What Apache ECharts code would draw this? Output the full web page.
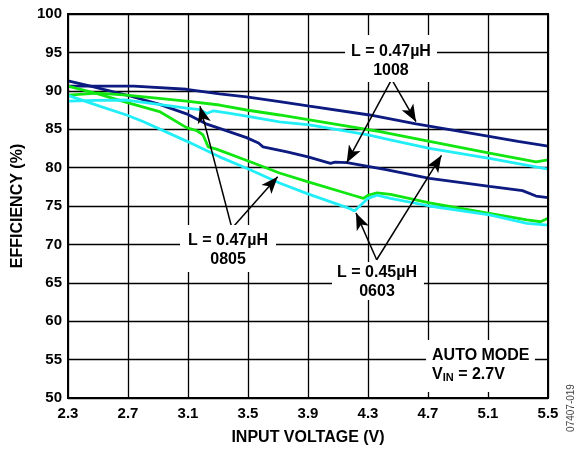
<!DOCTYPE html>
<html><head><meta charset="utf-8">
<script src="https://cdn.jsdelivr.net/npm/echarts@6/dist/echarts.min.js"></script>
<style>html,body{margin:0;padding:0;background:#fff}#c{width:578px;height:451px}</style>
</head><body><div id="c"></div>
<script>
var X0 = 2.3;
var xTicks = ['2.3','2.7','3.1','3.5','3.9','4.3','4.7','5.1','5.5'];
var yTicks = [50,55,60,65,70,75,80,85,90,95,100];

// 1008 (navy)
var navyUpper = [[2.3,90.6],[2.5,90.6],[2.74,90.6],[3.09,90.2],[3.31,89.6],[3.49,89.2],[3.71,88.6],[3.91,88.0],[4.31,86.85],[4.62,85.7],[5.05,84.25],[5.3,83.4],[5.5,82.8]];
var navyLower = [[2.3,91.3],[2.45,90.6],[2.69,89.45],[2.9,88.3],[3.09,87.0],[3.22,85.7],[3.31,85.1],[3.49,83.9],[3.57,83.2],[3.6,82.7],[3.76,82.05],[3.9,81.4],[4.05,80.55],[4.08,80.7],[4.16,80.64],[4.42,79.75],[4.71,78.6],[5.11,77.55],[5.33,77.0],[5.42,76.3],[5.5,76.1]];
// 0805 (green)
var greenUpper = [[2.3,89.45],[2.5,89.7],[2.69,89.45],[3.09,88.65],[3.31,88.15],[3.49,87.5],[3.71,86.85],[3.91,86.2],[4.3,84.95],[4.38,84.7],[4.71,83.4],[5.11,81.9],[5.42,80.75],[5.5,81.0]];
var greenLower = [[2.3,90.6],[2.5,89.6],[2.69,88.5],[2.91,87.3],[3.09,85.2],[3.16,84.8],[3.2,84.25],[3.235,82.7],[3.29,82.4],[3.51,80.8],[3.71,79.3],[3.89,78.2],[4.2,76.4],[4.27,76.0],[4.3,76.4],[4.36,76.7],[4.45,76.5],[4.71,75.4],[5.09,74.1],[5.36,73.2],[5.45,72.95],[5.5,73.4]];
// 0603 (cyan)
var cyanUpper = [[2.3,88.65],[2.49,88.75],[2.69,88.8],[3.09,87.75],[3.18,87.55],[3.225,87.05],[3.27,87.4],[3.38,87.05],[3.49,86.7],[3.71,85.95],[3.91,85.55],[4.3,84.25],[4.44,83.65],[4.71,82.5],[5.11,81.2],[5.5,79.8]];
var cyanLower = [[2.3,89.4],[2.51,88.0],[2.69,86.85],[2.8,86.0],[3.09,83.45],[3.31,81.4],[3.51,79.75],[3.71,78.0],[3.89,76.65],[4.18,74.65],[4.21,74.35],[4.3,76.0],[4.36,76.4],[4.45,76.0],[4.71,75.0],[5.11,73.85],[5.36,72.75],[5.5,72.5]];

var NAVY = '#0d1a80', GREEN = '#11e611', CYAN = '#22eef8';

function shift(arr){ return arr.map(function(p){ return [p[0]-X0, p[1]]; }); }
function line(name, data, color){
  return {name:name, type:'line', data:shift(data), showSymbol:false, symbol:'none',
    smooth:false, lineStyle:{color:color, width:2.8}, z:3, animation:false};
}

// annotation arrows in data coordinates [from, to]
var arrows = [
  [[4.458,91.5],[4.62,85.98]],
  [[4.458,91.5],[4.158,80.64]],
  [[3.393,72.1],[3.18,88.0]],
  [[3.393,72.1],[3.698,78.8]],
  [[4.358,68.0],[4.22,74.1]],
  [[4.358,68.0],[4.79,81.6]]
];

var chart = echarts.init(document.getElementById('c'), null, {renderer:'canvas'});
var F = '"Liberation Sans", Arial, sans-serif';
var series = [
  line('1008 A', navyUpper, NAVY), line('1008 B', navyLower, NAVY),
  line('0805 A', greenUpper, GREEN), line('0805 B', greenLower, GREEN),
  line('0603 A', cyanUpper, CYAN), line('0603 B', cyanLower, CYAN),
  {type:'line', data:[], z:5, animation:false,
   markLine:{silent:true, animation:false, symbol:['none','arrow'], symbolSize:[10,17], label:{show:false},
     lineStyle:{color:'#000', width:1.5, type:'solid'},
     data: arrows.map(function(a){ return [{coord:[a[0][0]-X0,a[0][1]]},{coord:[a[1][0]-X0,a[1][1]]}]; })}}
];

chart.setOption({
  animation:false,
  backgroundColor:'#fff',
  grid:{left:68, right:30, top:14, bottom:53, containLabel:false},
  xAxis:{type:'value', min:0, max:3.2, interval:0.4,
    name:'INPUT VOLTAGE (V)', nameLocation:'middle', nameGap:32,
    nameTextStyle:{fontFamily:F, fontWeight:'bold', fontSize:16, color:'#000'},
    axisLine:{show:true, lineStyle:{color:'#000', width:2}},
    axisTick:{show:false},
    axisLabel:{margin:8, fontFamily:F, fontWeight:'bold', fontSize:15, color:'#000',
      formatter:function(v){ var i=Math.round(v/0.4); return xTicks[i]!==undefined?xTicks[i]:''; }},
    splitLine:{show:true, lineStyle:{color:'#000', width:1.3}}
  },
  yAxis:{type:'value', min:50, max:100, interval:5,
    name:'EFFICIENCY (%)', nameLocation:'middle', nameGap:42, nameRotate:90,
    nameTextStyle:{fontFamily:F, fontWeight:'bold', fontSize:16, color:'#000'},
    axisLine:{show:true, lineStyle:{color:'#000', width:2}},
    axisTick:{show:false},
    axisLabel:{margin:6, fontFamily:F, fontWeight:'bold', fontSize:15, color:'#000',
      formatter:function(v){ return yTicks.indexOf(v)>=0 ? String(v) : ''; }},
    splitLine:{show:true, lineStyle:{color:'#000', width:1.3}}
  },
  series:series
});

function px(x,y){ return chart.convertToPixel({gridIndex:0}, [x-X0,y]); }
var tl = px(2.3,100), br = px(5.5,50);
// box: [x0,x1] volts, [ytop,ybottom] percent ; text anchor in data coords
function label(box, tx, ty, text, align){
  var a = px(box[0], box[2]), b = px(box[1], box[3]);
  var t = px(tx, ty);
  return {type:'group', z:10, children:[
    {type:'rect', shape:{x:a[0], y:a[1], width:b[0]-a[0], height:b[1]-a[1]}, style:{fill:'#fff'}, z:10},
    {type:'text', x:t[0], y:t[1], z:11, style:{text:text, fill:'#000', font:'bold 16px '+F,
      align:align||'center', verticalAlign:'middle', lineHeight:19,
      rich:{s:{fontSize:11, fontWeight:'bold', fontFamily:F, fill:'#000', padding:[7,0,0,0], lineHeight:19}}}}
  ]};
}
chart.setOption({graphic:[
  {type:'rect', z:9, shape:{x:tl[0], y:tl[1], width:br[0]-tl[0], height:br[1]-tl[1]},
   style:{fill:'none', stroke:'#000', lineWidth:2}},
  label([4.147,4.76,97.27,91.15], 4.453, 93.9, 'L = 0.47µH\n1008'),
  label([3.047,3.687,72.53,66.41], 3.367, 69.2, 'L = 0.47µH\n0805'),
  label([4.06,4.673,67.71,62.76], 4.36, 65.1, 'L = 0.45µH\n0603'),
  label([4.687,5.413,57.55,50.78], 4.727, 54.3, 'AUTO MODE\nV{s|IN} = 2.7V', 'left'),
  {type:'text', x:571, y:408, rotation:Math.PI/2, z:11,
   style:{text:'07407-019', fill:'#444', font:'10px '+F, align:'center', verticalAlign:'middle'}}
]});
</script></body></html>
